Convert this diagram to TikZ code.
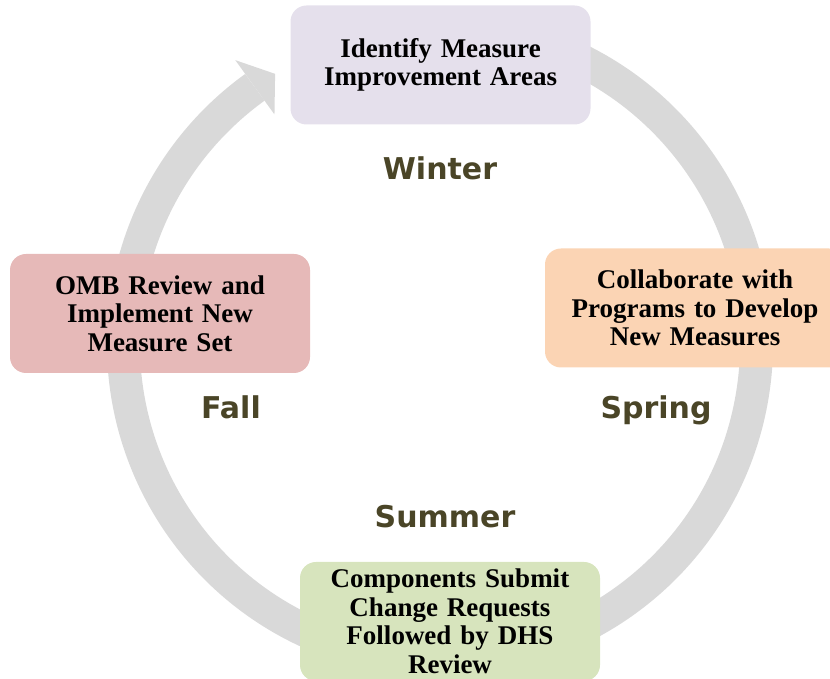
\documentclass[tikz,border=0pt]{standalone}
\usepackage{fontspec}
\setmainfont{Liberation Serif}
\newfontfamily\seasonfont{DejaVu Sans}
\usepackage{tikz}

\definecolor{ringgray}{HTML}{D9D9D9}
\definecolor{seasontext}{HTML}{4A4527}
\definecolor{winterfill}{HTML}{E5E0EC}
\definecolor{springfill}{HTML}{FBD4B4}
\definecolor{summerfill}{HTML}{D7E4BD}
\definecolor{fallfill}{HTML}{E6B9B8}

\begin{document}
\begin{tikzpicture}[x=1pt, y=1pt,
  stage/.style={rounded corners=16pt, minimum width=300pt, minimum height=119pt, text width=290pt, align=center, font=\fontsize{27}{28.5}\selectfont\bfseries},
  season/.style={anchor=base, text=seasontext, font=\fontsize{30}{34}\selectfont\seasonfont\bfseries}]
  \useasboundingbox (0,0) rectangle (830,679);
  \clip (0,0) rectangle (830,679);

  % the yearly cycle
  \coordinate (c) at (440,335);
  \draw[ringgray, line width=33pt] ([shift={(80:316.5)}]c) arc[start angle=80, end angle=-234.2, radius=316.5];
  \fill[ringgray] ([shift={(125.8:350)}]c) -- ([shift={(121.4:316.5)}]c) -- ([shift={(125.8:283)}]c) -- cycle;

  \node[stage, fill=winterfill] (identify) at (440.5,614) {Identify Measure\\Improvement Areas};
  \node[stage, fill=springfill] (collaborate) at (695,371) {Collaborate with\\Programs to Develop\\New Measures};
  \node[stage, fill=summerfill] (submit) at (450,57.5) {Components Submit\\Change Requests\\Followed by DHS\\Review};
  \node[stage, fill=fallfill] (omb) at (160,365.5) {OMB Review and\\Implement New\\Measure Set};

  \node[season] (winter) at (440,499) {Winter};
  \node[season] (spring) at (656,260) {Spring};
  \node[season] (summer) at (445,151) {Summer};
  \node[season] (fall) at (231,260) {Fall};
\end{tikzpicture}
\end{document}
